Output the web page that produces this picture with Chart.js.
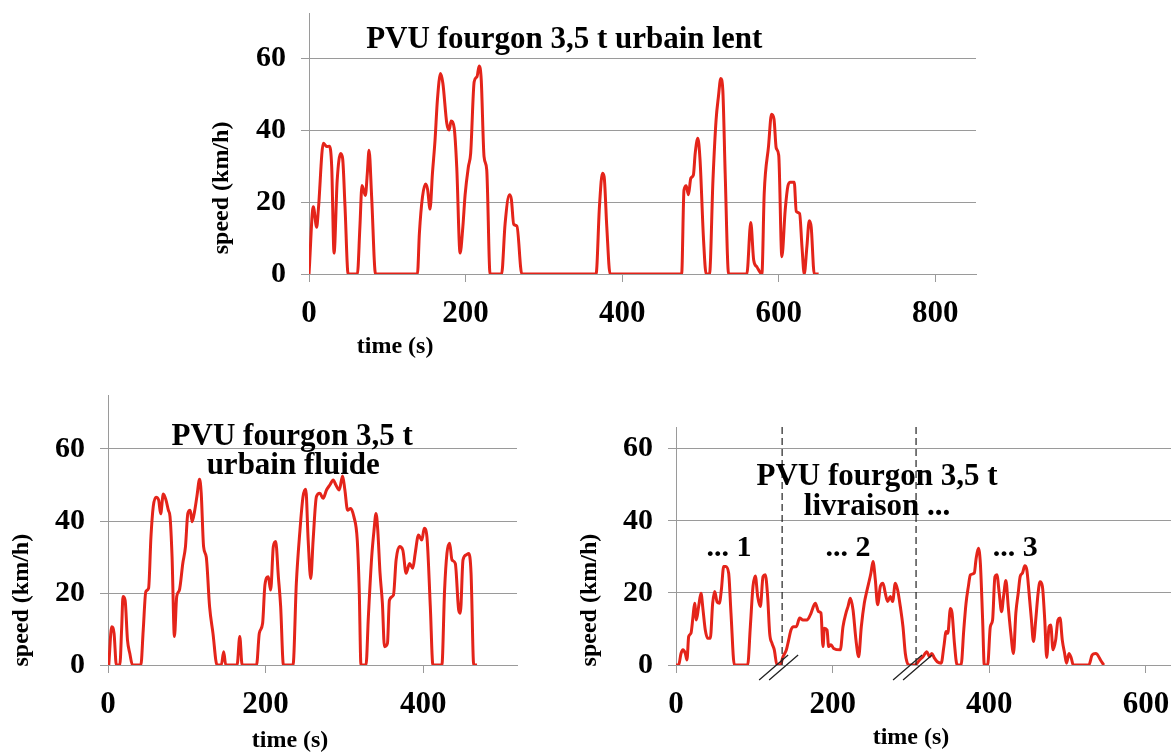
<!DOCTYPE html>
<html>
<head>
<meta charset="utf-8">
<script src="https://cdn.jsdelivr.net/npm/chart.js@4.4.1/dist/chart.umd.min.js"></script>
<style>
  body { margin: 0; background: #fff; width: 1171px; height: 752px; position: relative; overflow: hidden; }
  canvas { position: absolute; }
</style>
</head>
<body>
<canvas id="lent" width="810" height="370" style="left:190px;top:0"></canvas>
<canvas id="fluide" width="540" height="372" style="left:0;top:380px"></canvas>
<canvas id="livraison" width="611" height="372" style="left:560px;top:380px"></canvas>
<script>
// PVU fourgon 3,5 t - urbain lent
const lentTime = [
  0, 5.5, 9.8, 12, 18.3, 22.6, 26, 29, 32, 36, 40.5, 43, 46, 50,
  61.8, 65, 67.7, 72, 74.5, 76.7, 80, 85,
  138.5, 141, 145, 149, 151.5, 154.6, 157.7, 161, 164, 168, 171, 176, 179, 181.5, 185.5, 188.7,
  193, 196.5, 199.4, 203.6, 206.5, 211, 214.6, 217.3, 220, 223.6, 227, 231.3,
  246, 250.5, 256, 258.5, 261.5, 265.6, 271.8,
  366.7, 371, 374.8, 377, 380.4, 384.6,
  476, 479, 481.8, 484.7, 487.7, 491, 493.3, 496.7, 499.5, 504, 507.3,
  511.6, 516, 520, 523, 526, 528.6, 531.6, 536,
  559.3, 564.3, 568, 572, 578.5, 581.5, 587, 590.8, 594, 596.8, 600, 604,
  608.3, 611.8, 614.8, 619.8, 622.4, 626.7, 629.7, 632.6, 636, 639, 641.5, 645.4, 651
];
const lentSpeed = [
  0, 18.7, 13, 18, 36.3, 35.4, 35.5, 29.8, 5.8, 26, 33.5, 32, 18.7, 0,
  0, 13, 24.6, 21.8, 28, 34.4, 21.5, 0,
  0, 11.3, 21.5, 25, 23.5, 18, 28, 37.2, 48.3, 55.7, 53, 41.9, 40, 42.5, 40.5, 29.8,
  5.8, 13, 22, 29.8, 33.5, 53.4, 54.8, 57.8, 54, 32.6, 29, 0,
  0, 14, 22, 20.7, 13.8, 13.3, 0,
  0, 18.7, 28, 27, 13, 0,
  0, 23.3, 24.5, 22, 26.6, 27.5, 33.5, 37.7, 31.7, 9.4, 0,
  0, 26, 42.8, 49.3, 54.3, 51, 28, 0,
  0, 14.3, 3.9, 2, 0, 22.5, 35.5, 44.4, 43, 35, 33, 4.8,
  17.8, 24.5, 25.5, 25.5, 17.4, 16.8, 7.6, 0, 7.6, 14.8, 13, 0, 0
];

// PVU fourgon 3,5 t - urbain fluide
const fluideTime = [
  1, 4.7, 7.7, 10.6, 15, 17.4, 19, 21.7, 24.7, 27.7, 31,
  41.7, 44.7, 48, 51.5, 54.5, 57.4, 60.9, 64.3, 66.8, 70.2, 73.6, 76.6, 78.7, 81.3, 84.3,
  87.2, 90.6, 94.9, 98.3, 101.3, 104.3, 106.8, 109.8, 112.8, 116.2, 118.3, 121.3, 124.7, 128.9, 133.2, 138.3,
  143.8, 146.8, 149.4, 163.8, 167.2, 170.2,
  188.5, 192, 196.2, 199.1, 203.4, 206.4, 209.8, 212.8, 216.2, 219.1, 222.6,
  234.8, 239, 243.3, 247.5, 251, 254, 257.3, 260.3, 264.5, 268.8, 273, 277.3, 281.5, 285.8,
  289.2, 293.4, 297.7, 300.6, 304, 307.8, 312, 316.3, 318.8, 321,
  327.4, 330.4, 334.6, 337.6, 340.1, 342.3, 345.2, 348.2, 350.8, 354.6, 357.1, 362.2, 365.6, 369.9,
  374.1, 378.3, 382.6, 386.8, 389.8, 394, 398.3, 401.3, 404.7, 409, 412.3,
  423.7, 427.1, 430.1, 433.5, 436.5, 440.7, 445, 447.1, 450.5, 454.8, 457.7, 460.7, 464.1, 468.3
];
const fluideSpeed = [
  0, 10.6, 8.8, 0, 0, 10.6, 19, 18, 7, 3.2, 0,
  0, 9.7, 20.4, 21.3, 35.6, 44, 46.6, 45.8, 42, 47.5, 45.8, 43, 41.2, 30, 7.9,
  19, 20.8, 28.2, 32.9, 42.1, 43, 39.8, 42.6, 46.8, 51.6, 47.7, 32.9, 30, 16.2, 8.8, 0,
  0, 3.7, 0, 0, 7.9, 0,
  0, 8.8, 11.6, 22.2, 24.5, 20.8, 32.9, 34.3, 24.5, 16.2, 0,
  0, 22.7, 36.6, 46.8, 48.8, 34.7, 24, 34.7, 46.8, 47.7, 46.3, 48.6, 50, 51.4,
  50, 48.6, 52.5, 48.6, 43, 43.5, 41.2, 34.7, 20.8, 0,
  0, 13.4, 30, 37.5, 42.1, 37.5, 25.5, 17.1, 5.1, 6, 18, 19.4, 29.2, 32.9,
  31.9, 25.5, 28.2, 26.9, 31, 36.1, 34.7, 38, 35.6, 16.2, 0,
  0, 20.8, 31, 33.8, 29.2, 28.2, 15.3, 14.4, 29.2, 30.6, 31, 25.5, 0, 0
];

// PVU fourgon 3,5 t - livraison (three stitched parts)
const livraisonTime = [
  0, 3.4, 6.4, 8.9, 11.9, 14, 16.2, 19.1, 21.7, 23.8, 26, 28.9, 31.9, 34.5, 37.4, 40.4,
  43.8, 46.8, 49.4, 52.3, 55.3, 57.9, 60.9, 63.4, 67.2, 70.2, 74.5,
  91.5, 94.9, 98.3, 101.3, 104.3, 107.7, 111.1, 114, 117, 119.6, 122.6, 125.5, 128.9,
  133.2, 136.6, 140.9, 143.8, 146.8, 150.2, 153.6, 157.9, 162.1, 167.2, 171.5, 177.9, 182.1,
  185.1, 187.7, 189.4, 192.8, 194.9, 197.9, 201.3, 209.8, 213.2, 217, 219.6, 222.6, 226,
  229.8, 233.2, 236.6, 240.4, 243, 246, 248.9, 251.5, 254.5, 257.4, 260.9, 264.3, 267.2,
  270.2, 273.6, 276.6, 280, 283, 286.4, 289.8, 292.8, 297,
  304.7, 311, 315.3, 320.3, 323.7, 326.7, 330, 333.5, 338.6, 342, 344.9, 347, 350.4, 352.5,
  355.5, 358.9, 364, 367.4, 370.3, 373.3, 375.8, 380.9, 383, 386, 388.6, 391.5, 393.6,
  397.9, 401.3, 404.2, 407.2, 409.7, 412.7, 415.7, 418.2, 421.2, 424.2, 427.5, 430.9,
  433.9, 436.9, 439.4, 442.4, 445.3, 447.9, 450.8, 453.8, 456.4, 459.3, 462.3, 464.8,
  467.8, 470.8, 473.3, 476.3, 478.4, 481.4, 484.7, 487.7, 490.3, 493.2, 496.2, 498.7,
  501.7, 504.7, 507.2, 527.1, 531.4, 535.6, 537.7, 542, 546.2
];
const livraisonSpeed = [
  0, 0, 3.2, 4.2, 3.2, 1.4, 7.9, 8.8, 13.4, 17.1, 12.5, 16.2, 19.9, 15.3, 9.7, 7.4,
  7.4, 17.1, 20.4, 17.6, 17.1, 20.8, 27.3, 27.3, 25.5, 14.4, 0,
  0, 10.6, 21.8, 24.7, 19, 16.2, 24.5, 25, 19, 8.8, 6, 4.2, 0,
  0, 2.3, 4.2, 6.9, 9.7, 10.6, 10.6, 13, 12.5, 12.5, 13.9, 17.1, 14.8,
  14.4, 5.1, 10.2, 9.7, 5.1, 5.6, 4.6, 4.2, 10.6, 14.4, 16.2, 18.5, 15.3,
  6.9, 2.3, 10.6, 17.1, 19.9, 22.7, 25.5, 28.7, 23.6, 16.7, 21.8, 22.7, 19.9,
  17.6, 19, 17.6, 22.7, 20.8, 16.2, 10.6, 3.2, 0,
  0, 1.4, 2.3, 3.7, 2.3, 3.2, 1.9, 0.9, 0.5, 5.1, 9.3, 8.8, 15.7, 14.4,
  6, 0, 0, 9.7, 17.1, 21.8, 25, 25.5, 29.2, 32.4, 28.2, 12.5, 0,
  0, 10.6, 12.5, 24.5, 25, 19.9, 14.8, 19, 23.4, 16.2, 8.8, 3.2,
  14.4, 19.9, 24.5, 25.5, 27.5, 26.4, 19.9, 12.5, 6.5, 12.5, 19.9, 23.1,
  21.8, 12.5, 2.1, 10.6, 11.1, 4.2, 6.9, 12.5, 13, 6.9, 3.2, 0.5,
  3.2, 1.9, 0, 0, 2.8, 3.2, 3, 1.4, 0
];
const livraisonCuts = [135.5, 306.5];

const lentTicksX = [0, 200, 400, 600, 800];
const fluideTicksX = [0, 200, 400];
const livraisonTicksX = [0, 200, 400, 600];
const speedTicks = [0, 20, 40, 60];

const serif = '"Liberation Serif", "Times New Roman", serif';
const gridGray = '#9a9a9a';
const lineRed = 'rgb(228, 36, 26)';

// free text (titles, axis names) and the break markers of the delivery cycle
const notes = {
  id: 'notes',
  afterDraw(chart, args, o) {
    const { ctx, chartArea, scales: { x, y } } = chart;
    ctx.save();
    (o.cuts || []).forEach(t => {
      const px = x.getPixelForValue(t);
      ctx.strokeStyle = '#222';
      ctx.lineWidth = 1.2;
      ctx.setLineDash([7, 4]);
      ctx.beginPath();
      ctx.moveTo(px, chartArea.top);
      ctx.lineTo(px, chartArea.bottom);
      ctx.stroke();
      ctx.setLineDash([]);
      ctx.lineWidth = 1.3;
      ctx.beginPath();
      ctx.moveTo(px - 23, chartArea.bottom + 15);
      ctx.lineTo(px + 6, chartArea.bottom - 10);
      ctx.moveTo(px - 13, chartArea.bottom + 15);
      ctx.lineTo(px + 16, chartArea.bottom - 10);
      ctx.stroke();
    });
    ctx.fillStyle = '#000';
    ctx.textAlign = 'center';
    ctx.textBaseline = 'middle';
    (o.texts || []).forEach(tx => {
      ctx.font = 'bold ' + tx.size + 'px ' + serif;
      const px = x.getPixelForValue(tx.at[0]);
      const py = y.getPixelForValue(tx.at[1]);
      if (tx.rotate) {
        ctx.save();
        ctx.translate(px, py);
        ctx.rotate(-Math.PI / 2);
        ctx.fillText(tx.text, 0, 0);
        ctx.restore();
      } else {
        ctx.fillText(tx.text, px, py);
      }
    });
    ctx.restore();
  }
};

function drawCycle(id, c) {
  return new Chart(document.getElementById(id), {
    type: 'line',
    data: {
      datasets: [{
        data: c.time.map((t, i) => ({ x: t, y: c.speed[i] })),
        borderColor: lineRed,
        borderWidth: 3,
        pointRadius: 0,
        cubicInterpolationMode: 'monotone',
        borderJoinStyle: 'round'
      }]
    },
    options: {
      responsive: false,
      animation: false,
      devicePixelRatio: 1,
      layout: { padding: c.pad },
      plugins: {
        legend: { display: false },
        tooltip: { enabled: false },
        notes: { texts: c.texts, cuts: c.cuts }
      },
      scales: {
        x: {
          type: 'linear',
          min: 0,
          max: c.xMax,
          afterBuildTicks: s => { s.ticks = c.xTicks.map(v => ({ value: v })); },
          afterFit: s => { s.height = c.xH; s.paddingLeft = 0; s.paddingRight = 0; },
          grid: { drawOnChartArea: false, tickLength: 8, color: gridGray },
          border: { color: gridGray },
          ticks: { color: '#000', padding: 13, maxRotation: 0, font: { family: serif, size: 31, weight: 'bold' } }
        },
        y: {
          min: 0,
          max: c.yMax,
          afterBuildTicks: s => { s.ticks = speedTicks.map(v => ({ value: v })); },
          afterFit: s => { s.width = c.yW; s.paddingTop = 0; s.paddingBottom = 0; },
          grid: { tickLength: 8, color: gridGray },
          border: { color: gridGray },
          ticks: { color: '#000', padding: 15, font: { family: serif, size: 30, weight: 'bold' } }
        }
      }
    },
    plugins: [notes]
  });
}

drawCycle('lent', {
  time: lentTime, speed: lentSpeed, xTicks: lentTicksX,
  xMax: 852, yMax: 72.5, yW: 119, xH: 96,
  pad: { left: 0, right: 24, top: 13, bottom: 0 },
  texts: [
    { text: 'PVU fourgon 3,5 t urbain lent', at: [326, 65], size: 31 },
    { text: 'time (s)', at: [110, -20.3], size: 24 },
    { text: 'speed (km/h)', at: [-111, 23.9], size: 24, rotate: true }
  ]
});

drawCycle('fluide', {
  time: fluideTime, speed: fluideSpeed, xTicks: fluideTicksX,
  xMax: 519, yMax: 75, yW: 108, xH: 87,
  pad: { left: 0, right: 23, top: 15, bottom: 0 },
  texts: [
    { text: 'PVU fourgon 3,5 t', at: [233.7, 63.3], size: 31 },
    { text: 'urbain fluide', at: [235, 55.3], size: 31 },
    { text: 'time (s)', at: [231, -21.1], size: 24 },
    { text: 'speed (km/h)', at: [-109, 18], size: 24, rotate: true }
  ]
});

drawCycle('livraison', {
  time: livraisonTime, speed: livraisonSpeed, xTicks: livraisonTicksX,
  xMax: 632, yMax: 66, yW: 116, xH: 87,
  pad: { left: 0, right: 0, top: 47, bottom: 0 },
  cuts: livraisonCuts,
  texts: [
    { text: 'PVU fourgon 3,5 t', at: [256.7, 52.2], size: 31 },
    { text: 'livraison ...', at: [256.7, 43.9], size: 31 },
    { text: '... 1', at: [67.7, 32.5], size: 30 },
    { text: '... 2', at: [219.7, 32.5], size: 30 },
    { text: '... 3', at: [433, 32.5], size: 30 },
    { text: 'time (s)', at: [300, -20.3], size: 24 },
    { text: 'speed (km/h)', at: [-109.8, 18], size: 24, rotate: true }
  ]
});
</script>
</body>
</html>
